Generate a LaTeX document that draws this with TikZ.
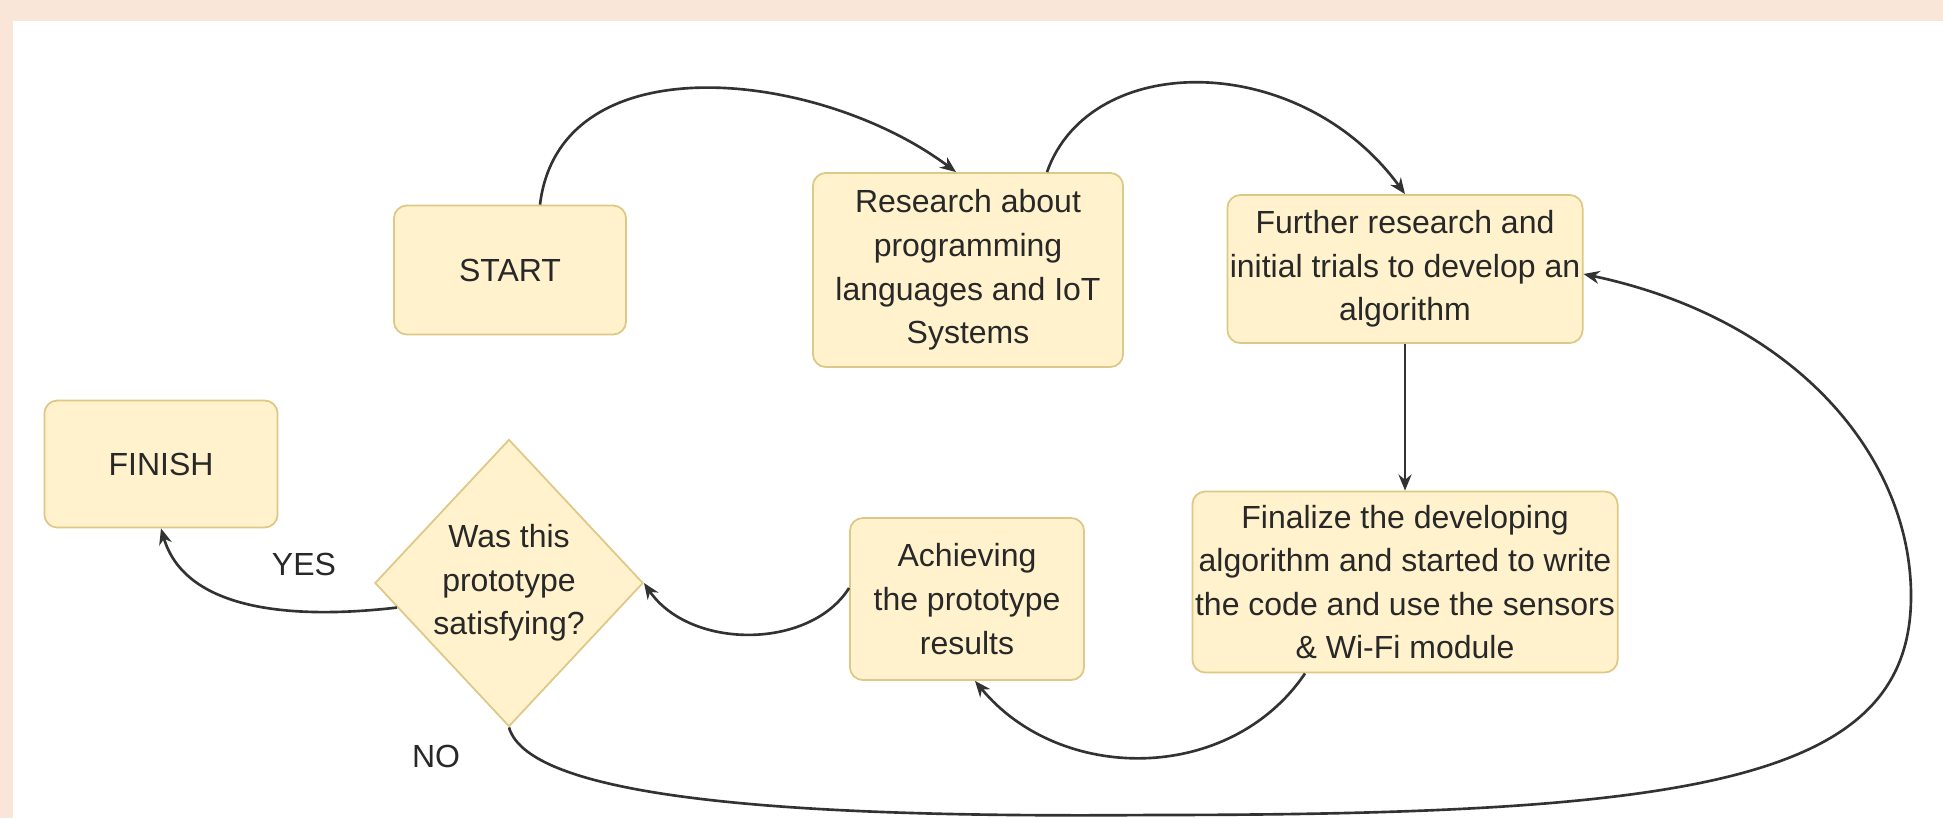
\documentclass[tikz,border=0pt]{standalone}
\usepackage{fontspec}
\setmainfont{Liberation Sans}
\usetikzlibrary{shapes.geometric,arrows.meta,calc}
\definecolor{peach}{RGB}{250,229,217}
\definecolor{boxfill}{RGB}{255,242,204}
\definecolor{boxline}{RGB}{222,200,135}
\definecolor{txt}{RGB}{40,40,40}
\definecolor{edge}{RGB}{50,50,50}
\begin{document}
\begin{tikzpicture}[x=0.01cm,y=-0.01cm,
  every node/.style={font=\fontsize{9.1pt}{12.4pt}\selectfont, text=txt},
  box/.style={draw=boxline, fill=boxfill, line width=0.5pt, rounded corners=0.13cm, align=center, inner sep=0pt},
  decision/.style={draw=boxline, fill=boxfill, line width=0.5pt, diamond, align=center, inner sep=0pt, minimum width=2.63cm, minimum height=2.87cm},
  conn/.style={draw=edge, line width=0.75pt, -{Stealth[length=0.16cm,width=0.13cm]}},
  lbl/.style={inner sep=0pt}]
\useasboundingbox (0,0) rectangle (1943,818);
\fill[peach] (0,0) rectangle (1943,818);
\fill[white] (13,21) rectangle (1943,818);

\node[box, minimum width=2.32cm, minimum height=1.29cm] (start) at (510,270) {START};
\node[box, minimum width=3.10cm, minimum height=1.94cm] (research) at (968,270) {Research about\\programming\\languages and IoT\\Systems};
\node[box, minimum width=3.55cm, minimum height=1.48cm] (further) at (1405,269) {Further research and\\initial trials to develop an\\algorithm};
\node[box, minimum width=2.33cm, minimum height=1.27cm] (finish) at (161,464) {FINISH};
\node[decision] (dec) at (509,583) {Was this\\prototype\\satisfying?};
\node[box, minimum width=2.34cm, minimum height=1.62cm] (achieve) at (967,599) {Achieving\\the prototype\\results};
\node[box, minimum width=4.25cm, minimum height=1.81cm] (final) at (1405,582) {Finalize the developing\\algorithm and started to write\\the code and use the sensors\\\& Wi-Fi module};

\node[lbl] (yes) at (304,564) {YES};
\node[lbl] (no) at (436,756) {NO};

\path[conn] ($(start.north)+(30,0)$) .. controls (560,40) and (820,70) .. ($(research.north)+(-12,0)$);
\path[conn] ($(research.north)+(79,0)$) .. controls (1090,50) and (1300,50) .. (further.north);
\path[conn] (further.south) -- (final.north);
\path[conn] ($(final.south)+(-100,0)$) .. controls (1230,784) and (1060,784) .. ($(achieve.south)+(8,0)$);
\path[conn] (achieve.west |- 0,588) .. controls (810,650) and (690,650) .. (dec.east);
\path[conn] ($(dec.west)!0.17!(dec.south)$) .. controls (290,620) and (185,610) .. (finish.south);
\coordinate (lowmid) at (1150,815);
\coordinate (rightmid) at (1911,596);
\draw[draw=edge, line width=0.75pt] (dec.south) .. controls (530,800) and (800,818) .. (lowmid)
  .. controls (1700,815) and (1911,780) .. (rightmid);
\path[conn] (rightmid) .. controls (1911,460) and (1800,320) .. ($(further.east)+(0,5)$);
\end{tikzpicture}
\end{document}
